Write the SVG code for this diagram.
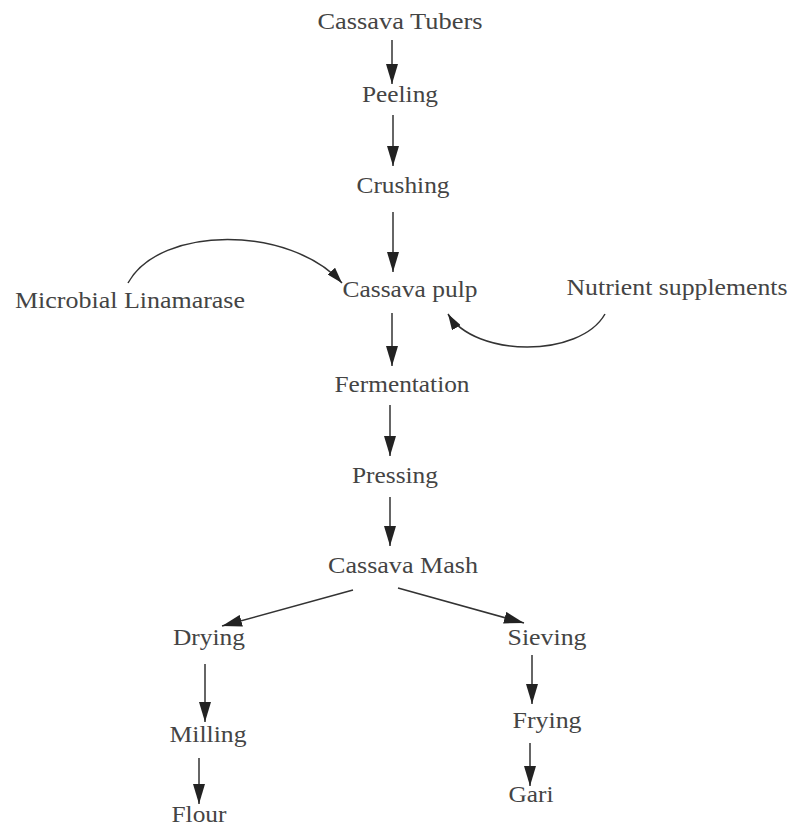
<svg xmlns="http://www.w3.org/2000/svg" width="793" height="826" viewBox="0 0 793 826">
<defs>
<style>
text{font-family:"Liberation Serif","Times New Roman",serif;font-size:23px;fill:#444;text-anchor:middle}
.c{stroke:#333;stroke-width:1.5;fill:none}
</style>
<marker id="ah" markerUnits="userSpaceOnUse" markerWidth="20" markerHeight="12" viewBox="0 0 20 12" refX="20" refY="6" orient="auto">
<path d="M0,0 L20,6 L0,12 Z" fill="#222"/>
</marker>
<marker id="ahs" markerUnits="userSpaceOnUse" markerWidth="16" markerHeight="10" viewBox="0 0 16 10" refX="16" refY="5" orient="auto">
<path d="M0,0 L16,5 L0,10 Z" fill="#222"/>
</marker>
</defs>
<rect width="793" height="826" fill="#fff"/>
<g id="connectors">
<line class="c" x1="392" y1="40" x2="392" y2="84" marker-end="url(#ah)"/>
<line class="c" x1="393" y1="115" x2="393" y2="166" marker-end="url(#ah)"/>
<line class="c" x1="393" y1="212" x2="393" y2="272" marker-end="url(#ah)"/>
<line class="c" x1="392" y1="313" x2="392" y2="366" marker-end="url(#ah)"/>
<line class="c" x1="390" y1="405" x2="390" y2="456" marker-end="url(#ah)"/>
<line class="c" x1="390" y1="497" x2="390" y2="546" marker-end="url(#ah)"/>
<line class="c" x1="353" y1="590" x2="222" y2="626" marker-end="url(#ah)"/>
<line class="c" x1="398" y1="588" x2="524" y2="623" marker-end="url(#ah)"/>
<line class="c" x1="205" y1="664" x2="205" y2="722" marker-end="url(#ah)"/>
<line class="c" x1="199" y1="758" x2="199" y2="804" marker-end="url(#ah)"/>
<line class="c" x1="532" y1="655" x2="532" y2="704" marker-end="url(#ah)"/>
<line class="c" x1="530" y1="743" x2="530" y2="786" marker-end="url(#ah)"/>
<path class="c" d="M128,283 C160,225 290,225 342,283" marker-end="url(#ahs)"/>
<path class="c" d="M605,314 C580,358 475,358 448,314" marker-end="url(#ahs)"/>
</g>
<g id="n-tubers"><text x="400" y="29" textLength="165" lengthAdjust="spacingAndGlyphs">Cassava Tubers</text></g>
<g id="n-peeling"><text x="400" y="102" textLength="76" lengthAdjust="spacingAndGlyphs">Peeling</text></g>
<g id="n-crushing"><text x="403" y="193" textLength="93" lengthAdjust="spacingAndGlyphs">Crushing</text></g>
<g id="n-pulp"><text x="410" y="297" textLength="135" lengthAdjust="spacingAndGlyphs">Cassava pulp</text></g>
<g id="n-microbial"><text x="130" y="308" textLength="230" lengthAdjust="spacingAndGlyphs">Microbial Linamarase</text></g>
<g id="n-nutrient"><text x="677" y="295" textLength="221" lengthAdjust="spacingAndGlyphs">Nutrient supplements</text></g>
<g id="n-fermentation"><text x="402" y="392" textLength="135" lengthAdjust="spacingAndGlyphs">Fermentation</text></g>
<g id="n-pressing"><text x="395" y="483" textLength="86" lengthAdjust="spacingAndGlyphs">Pressing</text></g>
<g id="n-mash"><text x="403" y="573" textLength="150" lengthAdjust="spacingAndGlyphs">Cassava Mash</text></g>
<g id="n-drying"><text x="209" y="645" textLength="72" lengthAdjust="spacingAndGlyphs">Drying</text></g>
<g id="n-sieving"><text x="547" y="645" textLength="79" lengthAdjust="spacingAndGlyphs">Sieving</text></g>
<g id="n-milling"><text x="208" y="742" textLength="77" lengthAdjust="spacingAndGlyphs">Milling</text></g>
<g id="n-flour"><text x="199" y="822" textLength="55" lengthAdjust="spacingAndGlyphs">Flour</text></g>
<g id="n-frying"><text x="547" y="728" textLength="69" lengthAdjust="spacingAndGlyphs">Frying</text></g>
<g id="n-gari"><text x="531" y="802" textLength="45" lengthAdjust="spacingAndGlyphs">Gari</text></g>
</svg>
